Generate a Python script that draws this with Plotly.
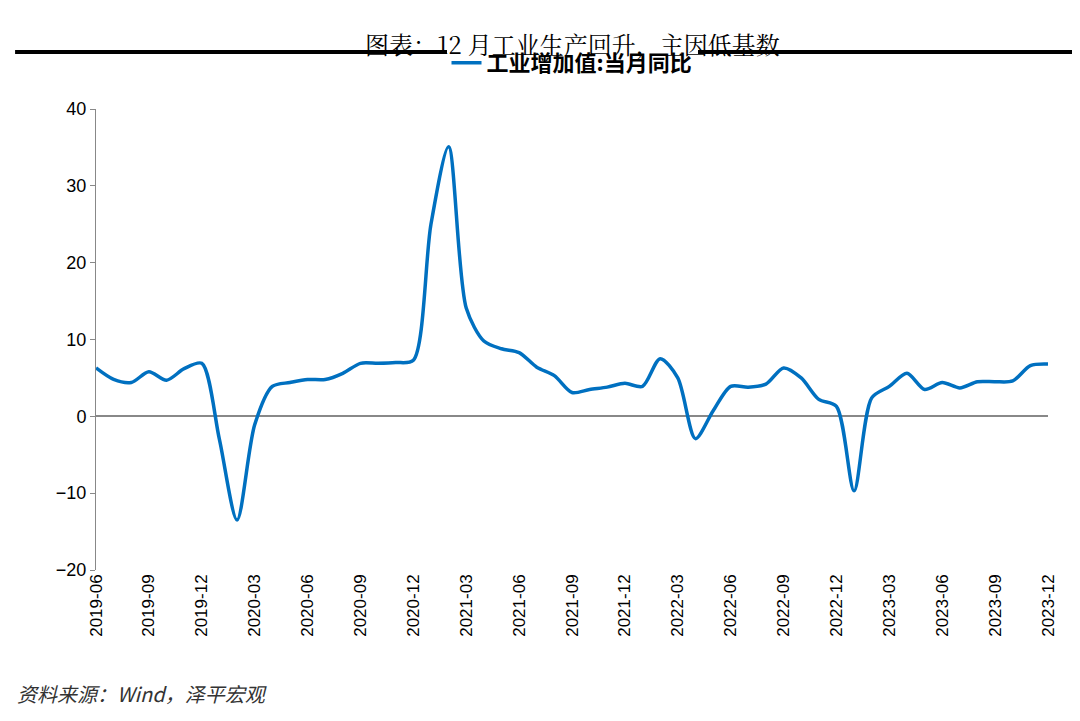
import plotly.graph_objects as go

months = [f"{y}-{m:02d}" for y in range(2019, 2024) for m in range(1, 13)][5:]
values = [6.3, 4.8, 4.4, 5.8, 4.7, 6.2, 6.9,
          -3.0, -13.5, -1.1, 3.9, 4.4, 4.8, 4.8, 5.6, 6.9, 6.9, 7.0, 7.3,
          25.0, 35.1, 14.1, 9.8, 8.8, 8.3, 6.4, 5.3, 3.1, 3.5, 3.8, 4.3,
          3.9, 7.5, 5.0, -2.9, 0.7, 3.9, 3.8, 4.2, 6.3, 5.0, 2.2, 1.3,
          -9.7, 2.4, 3.9, 5.6, 3.5, 4.4, 3.7, 4.5, 4.5, 4.6, 6.6, 6.8]
ticklabels = months[::3]
series_name = "工业增加值:当月同比"

font = "Noto Sans CJK SC"
fig = go.Figure(go.Scatter(x=months, y=values, mode="lines", name=series_name,
                           line=dict(color="#0070C0", width=3.5, shape="spline", smoothing=0.8)))
fig.update_layout(
    width=1080, height=721, plot_bgcolor="white", paper_bgcolor="white",
    margin=dict(l=88, r=40, t=101, b=159),
    font=dict(family=font, size=18, color="black"),
    showlegend=True,
    legend=dict(orientation="h", x=0.5, xanchor="center", y=1.1, yanchor="middle",
                font=dict(size=22, family=font, weight="bold")),
    xaxis=dict(type="category", tickvals=ticklabels, ticktext=ticklabels, tickangle=-90,
               showgrid=False, showline=False, ticks="", tickfont=dict(size=17, family="Liberation Sans")),
    yaxis=dict(range=[-20, 40], dtick=10, showgrid=False, showline=True, linecolor="#888",
               ticks="outside", ticklen=5, tickcolor="#888", zeroline=True, zerolinecolor="#888",
               zerolinewidth=1.5, tickfont=dict(size=18, family="Liberation Sans")),
    annotations=[
        dict(text="图表：12 月工业生产回升，主因低基数", xref="paper", yref="paper", x=0.5, y=1.0,
             yshift=85, xanchor="center", showarrow=False, font=dict(size=24, family="Noto Serif CJK SC, " + font)),
        dict(text="<i>资料来源：Wind，泽平宏观</i>", xref="paper", yref="paper", x=-0.085, y=0,
             yshift=-140, xanchor="left", showarrow=False, font=dict(size=20, color="#333")),
    ],
    shapes=[dict(type="line", xref="paper", yref="paper", x0=-0.085, x1=1.04,
                 ysizemode="pixel", yanchor=1.0, y0=57, y1=57,
                 line=dict(color="black", width=4))],
)
fig.write_html("out.html")
